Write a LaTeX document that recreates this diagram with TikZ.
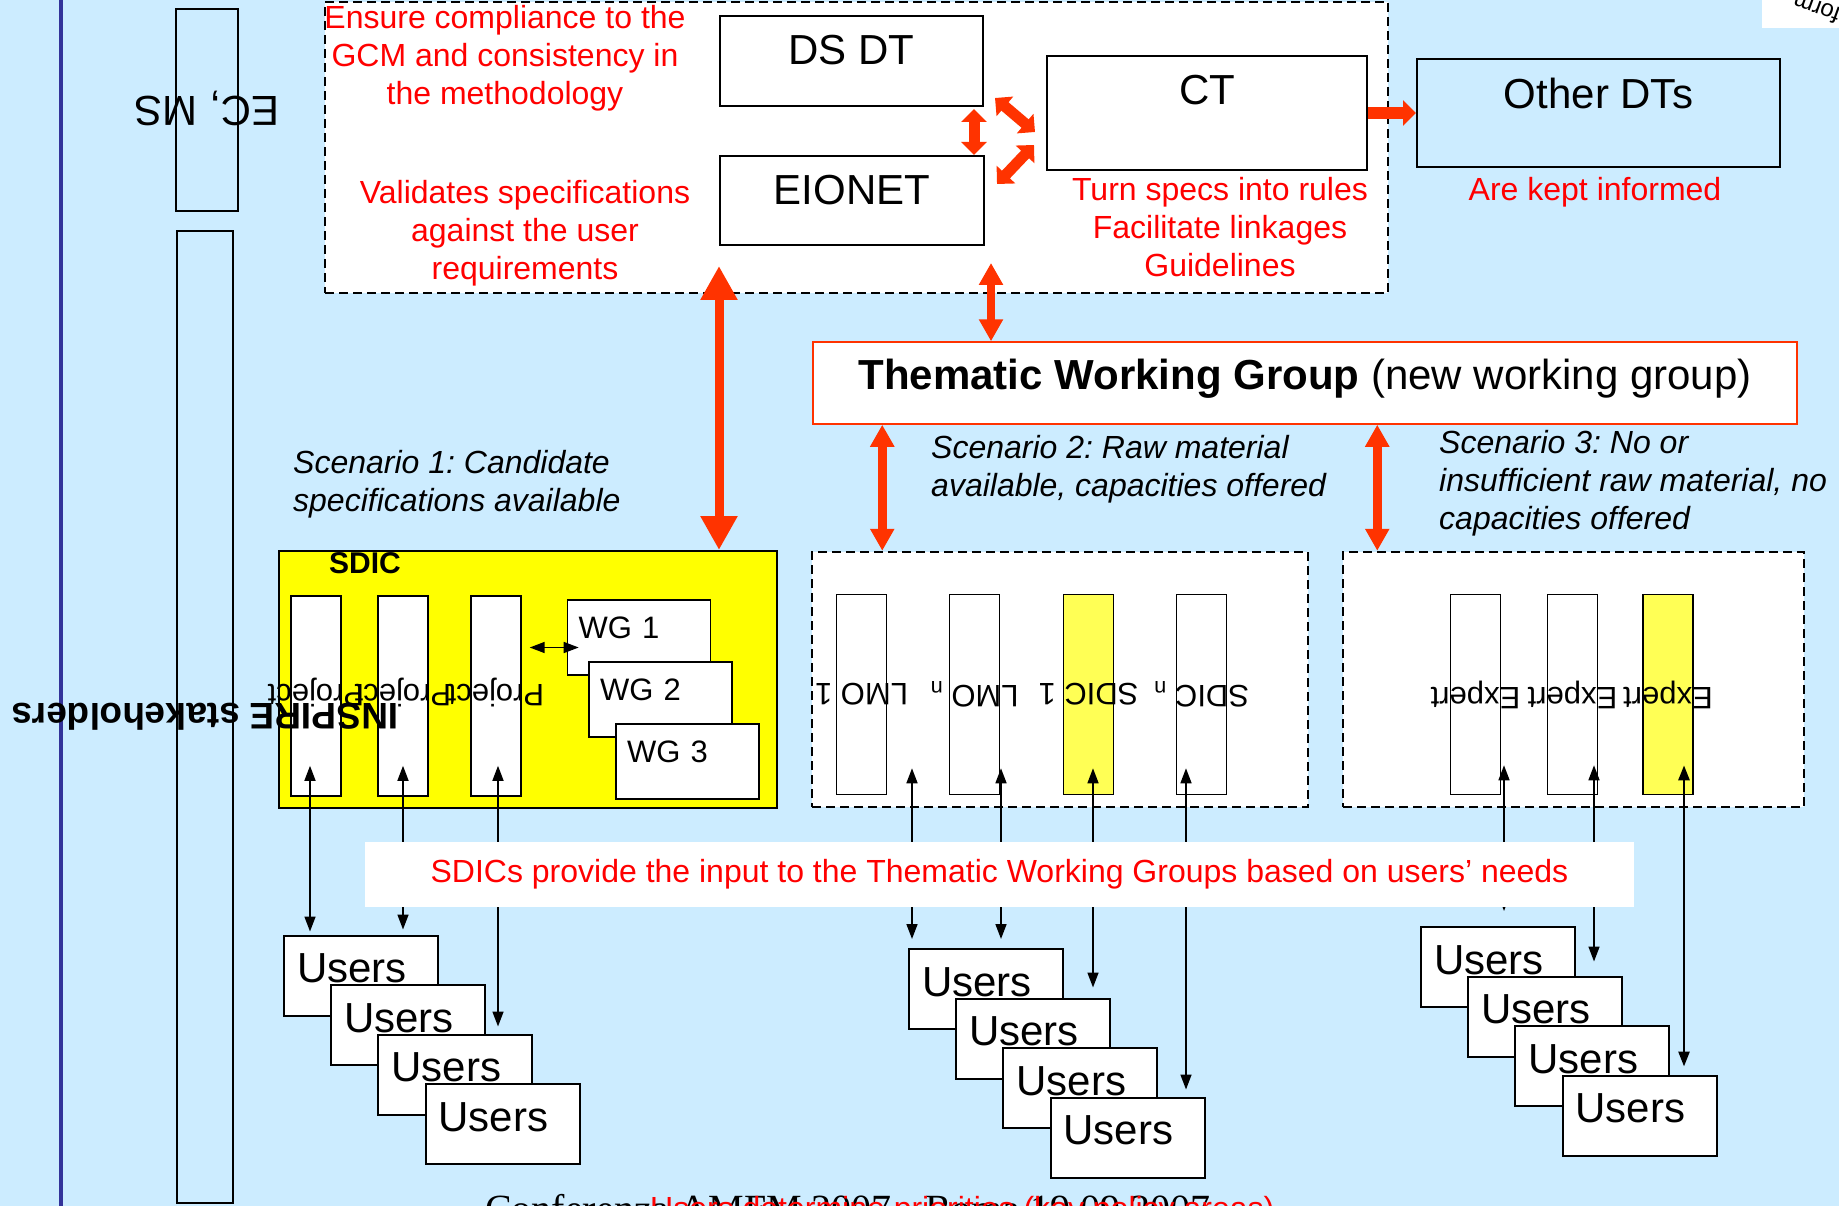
\documentclass[tikz,border=0pt]{standalone}
\usepackage{fontspec}
\setmainfont{Liberation Sans}
\newfontfamily\footserif{Liberation Serif}
\frenchspacing
\usetikzlibrary{arrows.meta,calc}
\definecolor{slide}{HTML}{CCECFF}
\definecolor{rule}{HTML}{333399}
\definecolor{flag}{HTML}{FF3300}
\definecolor{note}{HTML}{FF0000}
\definecolor{sdic}{HTML}{FFFF00}
\definecolor{pale}{HTML}{FFFF55}

\begin{document}
\begin{tikzpicture}[
  x=1pt, y=-1pt,
  box/.style={draw, line width=2pt, fill=white, inner sep=0pt},
  frame/.style={draw, line width=2pt, inner sep=0pt},
  dashbox/.style={box, line width=2.5pt, dash pattern=on 9pt off 5pt},
  column/.style={box, line width=1.6pt, minimum width=50pt, minimum height=200pt},
  users/.style={box, minimum height=80pt, text width=128pt, inner xsep=13pt,
    align=left, text depth=14pt, font=\fontsize{42}{50}\selectfont},
  wg/.style={box, line width=1.6pt, minimum height=75pt, text width=121pt,
    inner xsep=11pt, align=left, text depth=20pt, font=\fontsize{31}{37}\selectfont},
  title/.style={font=\fontsize{42}{50}\selectfont},
  remark/.style={text=note, font=\fontsize{32}{38}\selectfont, align=center, inner sep=0pt},
  scenario/.style={font=\fontsize{32}{38}\selectfont\itshape, align=left,
    inner sep=0pt, anchor=west},
  flipped/.style={rotate=180, inner sep=0pt, font=\fontsize{31}{36}\selectfont},
  link/.style={line width=1.6pt,
    {Triangle[length=15pt,width=11pt]}-{Triangle[length=15pt,width=11pt]}},
  block/.style={draw=flag, line width=11pt,
    {Triangle[length=13pt,width=25pt]}-{Triangle[length=13pt,width=25pt]}},
  blockto/.style={draw=flag, line width=12pt, -{Triangle[length=13pt,width=25pt]}},
  flow/.style={draw=flag, line width=8.5pt,
    {Triangle[length=22pt,width=23pt]}-{Triangle[length=22pt,width=23pt]}},
  bigflow/.style={draw=flag, line width=9pt,
    {Triangle[length=34pt,width=35pt]}-{Triangle[length=34pt,width=35pt]}}
]
% slide area, y runs downwards like the sketch
\useasboundingbox (0,0) rectangle (1839,1206);
\fill[slide] (0,0) rectangle (1839,1206);
\clip (0,0) rectangle (1839,1206);
\draw[rule, line width=4pt] (61,0) -- (61,1206);

\node[fill=white, minimum width=77pt, minimum height=28pt, inner sep=0pt,
  anchor=north west] (corner) at (1762,0) {};
\begin{scope}
  \clip (corner.north west) rectangle (corner.south east);
  \node[rotate=160, anchor=base west, inner sep=0pt,
    font=\fontsize{24}{28}\selectfont] (form) at (1842,9) {form};
\end{scope}

\node[frame, minimum width=62pt, minimum height=202pt] (ecms) at (207,110) {};
\node[frame, minimum width=56pt, minimum height=972pt] (inspire) at (205,717) {};
\node[flipped, font=\fontsize{42}{50}\selectfont] (ecms-t) at ($(ecms)+(0,-2)$) {EC, MS};

% coordination block
\node[dashbox, minimum width=1063pt, minimum height=291pt] (core) at (856.5,147.5) {};
\node[box, title, minimum width=263pt, minimum height=90pt, text depth=22pt]
  (dsdt) at (851.5,61) {DS DT};
\node[box, title, minimum width=264pt, minimum height=89pt, text depth=21pt]
  (eionet) at (852,200.5) {EIONET};
\node[box, title, minimum width=320pt, minimum height=114pt, text depth=46pt]
  (ct) at (1207,113) {CT};
\node[frame, title, minimum width=363pt, minimum height=108pt, text depth=40pt]
  (other) at (1598.5,113) {Other DTs};

\node[remark] (ensure) at (505,58) {Ensure compliance to the\\GCM and consistency in\\the methodology};
\node[remark] (validate) at (525,233) {Validates specifications\\against the user\\requirements};
\node[remark] (rules) at (1220,227) {Turn specs into rules\\Facilitate linkages\\Guidelines};
\node[remark] (informed) at (1595,192) {Are kept informed};

\coordinate (pair) at ($(dsdt.south east)+(-10,2)$);
\draw[block] (pair) -- (pair |- eionet.north);
\draw[block] ($(dsdt.east)+(11,37)$) -- ($(ct.west)+(-11,19)$);
\draw[block] ($(eionet.east)+(12,-16.5)$) -- ($(ct.west)+(-12,32)$);
\draw[blockto] (ct.east) -- (other.west);

\node[box, title, draw=flag, line width=1.5pt, minimum width=984pt, minimum height=82pt,
  text depth=17pt] (twg) at (1305,383) {\textbf{Thematic Working Group} (new working group)};

\node[scenario] (scen1) at (293,484.5) {Scenario 1: Candidate\\specifications available};
\node[scenario] (scen2) at (931,469) {Scenario 2: Raw material\\available, capacities offered};
\node[scenario] (scen3) at (1439,483) {Scenario 3: No or\\insufficient raw material, no\\capacities offered};

% scenario 1
\node[box, fill=sdic, minimum width=498pt, minimum height=257pt] (sdic) at (528,679.5) {};
\node[inner sep=0pt, font=\fontsize{30}{36}\selectfont\bfseries] (sdic-t) at (365,563) {SDIC};
\foreach \name/\x in {p1/316, p2/403, p3/496}
  \node[column] (\name) at (\x,696) {};
\node[wg] (wg1) at (639,637.5) {WG 1};
\node[wg] (wg2) at (660.5,699.5) {WG 2};
\node[wg] (wg3) at (687.5,761.5) {WG 3};
\foreach \name in {p1,p2,p3}
  \node[flipped] (\name-t) at ($(\name.center)+(0,-3)$) {Project};
\node[flipped, font=\fontsize{37}{44}\selectfont\bfseries] (inspire-t) at (inspire) {INSPIRE stakeholders};
\draw[link] ($(wg1.west)+(-37,10)$) -- ($(wg1.west)+(12,10)$);

% scenarios 2 and 3
\node[dashbox, minimum width=496pt, minimum height=255pt] (s2) at (1060,679.5) {};
\node[dashbox, minimum width=461pt, minimum height=255pt] (s3) at (1573.5,679.5) {};
\foreach \name/\x/\shade in {lmo1/861.5/white, lmon/974.5/white, sdic1/1088.5/pale,
  sdicn/1201.5/white, ex1/1475.5/white, ex2/1572.5/white, ex3/1668/pale}
  \node[column, fill=\shade] (\name) at (\x,694.5) {};
\foreach \name/\word in {lmo1/LMO 1, lmon/LMO \textsubscript{n}, sdic1/SDIC 1,
  sdicn/SDIC \textsubscript{n}, ex1/Expert, ex2/Expert, ex3/Expert}
  \node[flipped] (\name-t) at (\name) {\word};

\coordinate (down) at ($(eionet.south west)+(0,20)$);
\draw[bigflow] (down) -- (down |- sdic.north);
\coordinate (up) at ($(eionet.south east)+(6,17)$);
\draw[flow] (up) -- (up |- twg.north);
\coordinate (left) at ($(twg.south west)+(70,0)$);
\draw[flow] (left) -- (left |- s2.north);
\coordinate (right) at ($(twg.south west)+(565,0)$);
\draw[flow] (right) -- (right |- s3.north);

% user stacks
\foreach \grp/\x/\y in {pu/361/975.5, mu/986/989, ru/1498/967}
  \foreach \i in {1,...,4}
    \node[users] (\grp\i) at ({\x+47.2*(\i-1)},{\y+49.5*(\i-1)}) {Users};

\foreach \col/\dx/\lift/\usr/\gap/\lw in {
  p1/-6/31/pu1/3/1.6, p2/0/31/pu1/5/1.6, p3/2/31/pu3/7/1.6,
  lmo1/50.5/27/mu1/9/1.6, lmon/26.5/27/mu1/9/1.6, sdic1/4.5/27/mu2/10/1.6,
  sdicn/-15.5/27/mu4/7/1.6,
  ex1/28.5/30/ru1/15/1.6, ex2/21.5/30/ru2/14/1.6, ex3/16/30/ru4/8/2.6} {
  \coordinate (tail) at ($(\col.south)+(\dx,-\lift)$);
  \draw[link, line width=\lw pt, shorten >=\gap pt] (tail) -- (tail |- \usr.north);
}

\node[fill=white, inner sep=0pt, minimum width=1269pt, minimum height=65pt, text=note,
  font=\fontsize{32}{38}\selectfont] (input) at (999.5,874.5)
  {SDICs provide the input to the Thematic Working Groups based on users’ needs};

\node[anchor=base west, inner sep=0pt, font=\footserif\fontsize{40}{48}\selectfont]
  (venue) at (485,1222) {Conferenza AMFM 2007 - Roma 19.09.2007};
\node[anchor=base west, inner sep=0pt, text=note, font=\fontsize{32}{38}\selectfont]
  (priority) at (650,1219) {Users determine priorities (key policy areas)};
\end{tikzpicture}
\end{document}
